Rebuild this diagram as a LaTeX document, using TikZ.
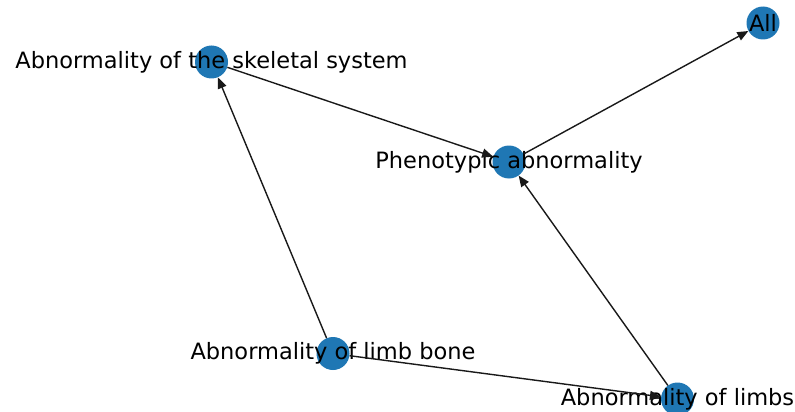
\documentclass[tikz,border=0pt]{standalone}
\usepackage{fontspec}
\setmainfont{DejaVu Sans}
\usetikzlibrary{arrows.meta}
\definecolor{nodeblue}{HTML}{1F77B4}
\begin{document}
\begin{tikzpicture}[x=1pt,y=-1pt,
  dot/.style={circle,fill=nodeblue,minimum size=33pt,inner sep=0pt},
  lbl/.style={font=\fontsize{22.5}{26}\selectfont,text=black,inner sep=0pt},
  edge/.style={-{Triangle[length=11pt,width=9pt]},line width=1.4pt,black!90}]
\useasboundingbox (0,0) rectangle (795,412);
% nodes
\node[dot] (all)   at (763,23)    {};
\node[dot] (skel)  at (211.5,62)  {};
\node[dot] (pheno) at (509,162)   {};
\node[dot] (bone)  at (333,353.5) {};
\node[dot] (limbs) at (677.5,399) {};
% labels
\node[lbl] (lall)   at (all)   {All};
\node[lbl] (lskel)  at (skel)  {Abnormality of the skeletal system};
\node[lbl] (lpheno) at (pheno) {Phenotypic abnormality};
\node[lbl] (lbone)  at (bone)  {Abnormality of limb bone};
\node[lbl] (llimbs) at (limbs) {Abnormality of limbs};
% edges
\draw[edge] (skel)  -- (pheno);
\draw[edge] (pheno) -- (all);
\draw[edge] (bone)  -- (skel);
\draw[edge] (limbs) -- (pheno);
\draw[edge] (bone)  -- (limbs);
\end{tikzpicture}
\end{document}
